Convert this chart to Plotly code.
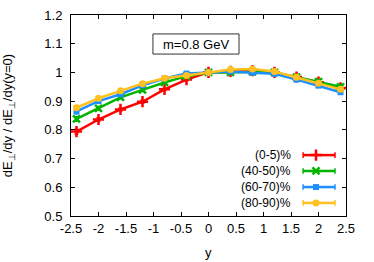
import plotly.graph_objects as go

y_vals = [-2.4, -2.0, -1.6, -1.2, -0.8, -0.4, 0.0, 0.4, 0.8, 1.2, 1.6, 2.0, 2.4]
r_0_5 = [0.794, 0.836, 0.871, 0.898, 0.941, 0.975, 1.0, 1.004, 1.006, 1.0, 0.984, 0.966, 0.946]
r_40_50 = [0.838, 0.875, 0.913, 0.939, 0.965, 0.987, 1.0, 1.0, 1.002, 1.0, 0.984, 0.968, 0.950]
r_60_70 = [0.864, 0.900, 0.924, 0.955, 0.979, 0.996, 1.0, 1.003, 0.999, 0.995, 0.975, 0.954, 0.931]
r_80_90 = [0.877, 0.910, 0.936, 0.961, 0.980, 0.989, 1.0, 1.010, 1.012, 1.003, 0.983, 0.962, 0.941]
err = [0.008, 0.006, 0.005, 0.005, 0.004, 0.004, 0.002, 0.004, 0.004, 0.004, 0.005, 0.005, 0.006]

names = ["(0-5)%", "(40-50)%", "(60-70)%", "(80-90)%"]
colors = ["#ff0000", "#00b400", "#1e8fff", "#ffc020"]
symbols = ["cross-thin", "x-thin", "square", "circle"]
msizes = [8, 7, 6, 7]
series = [r_0_5, r_40_50, r_60_70, r_80_90]

xtick_vals = [-2.5, -2, -1.5, -1, -0.5, 0, 0.5, 1, 1.5, 2, 2.5]
xtick_text = ["-2.5", "-2", "-1.5", "-1", "-0.5", "0", "0.5", "1", "1.5", "2", "2.5"]
ytick_vals = [0.5, 0.6, 0.7, 0.8, 0.9, 1.0, 1.1, 1.2]
ytick_text = ["0.5", "0.6", "0.7", "0.8", "0.9", "1", "1.1", "1.2"]

FONT = "Liberation Sans, Arial, sans-serif"


def mk(sym, ms, col):
    thin = sym.endswith("-thin")
    return dict(symbol=sym, size=ms, color=col, line=dict(color=col, width=2.5 if thin else 0))


fig = go.Figure()
for nm, col, sym, ms, vals in zip(names, colors, symbols, msizes, series):
    fig.add_trace(go.Scatter(
        x=y_vals, y=vals, mode="lines+markers", name=nm,
        line=dict(color=col, width=2.5),
        marker=mk(sym, ms, col),
        error_y=dict(type="data", array=err, color=col, thickness=1.5, width=2),
        showlegend=False,
    ))

# custom gnuplot-style key (text, then sample)
key_y = [0.303, 0.224, 0.144, 0.065]
key_x0, key_x1, key_xm, key_tx = 0.844, 0.960, 0.891, 0.807
shapes = []
annotations = []
for nm, col, sym, ms, ky in zip(names, colors, symbols, msizes, key_y):
    shapes.append(dict(type="line", xref="paper", yref="paper", x0=key_x0, x1=key_x1,
                       y0=ky, y1=ky, line=dict(color=col, width=2.5)))
    for xe in (key_x0, key_x1):
        shapes.append(dict(type="line", xref="paper", yref="paper", x0=xe, x1=xe,
                           y0=ky - 0.014, y1=ky + 0.014, line=dict(color=col, width=1.5)))
    annotations.append(dict(xref="paper", yref="paper", x=key_tx, y=ky, text=nm,
                            showarrow=False, xanchor="right", yanchor="middle",
                            font=dict(family=FONT, size=12, color="#000")))
    fig.add_trace(go.Scatter(
        x=[key_xm], y=[ky], xaxis="x2", yaxis="y2", mode="markers",
        marker=mk(sym, ms, col), showlegend=False, hoverinfo="skip"))

# label box
shapes.append(dict(type="rect", xref="x", yref="y", x0=-1.01, x1=0.555, y0=1.064, y1=1.134,
                   line=dict(color="#333", width=1), fillcolor="white", layer="below"))
annotations.append(dict(xref="x", yref="y", x=-0.227, y=1.099, text="m=0.8 GeV",
                        showarrow=False, font=dict(family=FONT, size=13, color="#000")))
# x-axis title
annotations.append(dict(xref="paper", yref="paper", x=0.5, y=0, yanchor="middle",
                        yshift=-36, text="y", showarrow=False,
                        font=dict(family=FONT, size=13, color="#000")))

fig.update_layout(
    width=374, height=262,
    margin=dict(l=71, r=28, t=15, b=46, autoexpand=False),
    paper_bgcolor="white", plot_bgcolor="white",
    font=dict(family=FONT, size=13, color="#000"),
    shapes=shapes, annotations=annotations,
    xaxis=dict(range=[-2.5, 2.5], tickvals=xtick_vals, ticktext=xtick_text,
               ticks="inside", ticklen=4, tickcolor="#000", showline=True, linecolor="#000",
               linewidth=1, mirror="ticks", showgrid=False, zeroline=False, automargin=False,
               tickfont=dict(size=13)),
    yaxis=dict(range=[0.5, 1.2], tickvals=ytick_vals, ticktext=ytick_text,
               ticks="inside", ticklen=4, tickcolor="#000", showline=True, linecolor="#000",
               linewidth=1, mirror="ticks", showgrid=False, zeroline=False, automargin=False,
               ticklabelstandoff=5,
               title=dict(text="dE<sub>⊥</sub>/dy / dE<sub>⊥</sub>/dy(y=0)", font=dict(size=13), standoff=28),
               tickfont=dict(size=13)),
    xaxis2=dict(overlaying="x", range=[0, 1], visible=False),
    yaxis2=dict(overlaying="y", range=[0, 1], visible=False),
)

fig.write_html("out.html", config={"displayModeBar": False},
               post_script="document.body.style.margin='0px';")
